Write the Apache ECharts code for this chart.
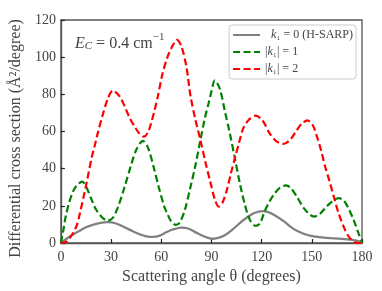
<!DOCTYPE html>
<html><head><meta charset="utf-8">
<script src="https://cdn.jsdelivr.net/npm/echarts@6/dist/echarts.min.js"></script>
<style>html,body{margin:0;padding:0;background:#fff}#c{width:382px;height:291px}</style>
</head><body><div id="c"></div>
<script>
var xTicks = [0, 30, 60, 90, 120, 150, 180];
var yTicks = [0, 20, 40, 60, 80, 100, 120];
var seriesNames = ['k1 = 0 (H-SARP)', '|k1| = 1', '|k1| = 2'];
var grayData = [[0,0],[3,2],[6,3.8],[9,5.5],[12,7],[15,8.5],[19,9.8],[23,10.7],[28,11.2],[33,10.5],[38,8.5],[43,6.3],[48,4.4],[52,3.4],[55,3.3],[59,4],[63,5.8],[67,7.3],[72,8.3],[76,7.8],[80,6],[84,4.2],[88,2.8],[91,2.3],[95,3],[98.2,4.3],[102,6.8],[108,11.5],[112,14.3],[116,16.3],[120,17.2],[124,16.6],[128,14.8],[133.6,11.5],[138,8.3],[142,6.2],[147.4,4.3],[152,3.4],[157,2.9],[161,2.6],[166,2.3],[171,2],[175,1.6],[178,1],[180,0.3]];
var greenData = [[0,0],[1.5,7],[2.8,14],[5,22],[7.7,28.5],[10,31.5],[12.8,33],[15,30.5],[18.5,23],[21,18],[24.4,14],[27.9,12],[31,13.5],[34,19],[38,30],[42,42],[45,50],[49,55],[52,51.5],[55.9,39.3],[58.5,30],[61.8,19.6],[64,15],[66,11.5],[68.7,9.7],[71,11],[74,17.5],[77.5,30.3],[80,40],[83.4,55.4],[86,67],[88.3,75.2],[90,81.5],[92,87.5],[95,83],[98,71],[101,59],[104,45.6],[107,32],[110,20.5],[113,12.4],[116.5,9.2],[119,10.5],[121.8,17],[124.5,22],[127.7,26.5],[131,29.8],[134.6,31],[137.5,29.5],[141,25],[145,19],[148.5,15.5],[151.3,14.2],[155,15.8],[159,19.8],[163,23],[166,24.2],[169,23],[172,18.5],[175,12.4],[178,5],[180,0.5]];
var redData = [[0,0],[3,0.5],[4.7,2],[7,5],[9.6,9.7],[11.5,16.5],[13.6,25],[15.5,33],[18.5,46.4],[20,51.5],[22,59],[25,69],[28,77.5],[31,82],[35,79],[38.2,73.4],[41,67.5],[44.1,62.6],[47,58.8],[49.6,57.2],[52,59.5],[53.9,64.4],[56,71.5],[57.9,78.7],[60.8,91.3],[63.8,100.3],[67,106.5],[69.3,109.3],[72,106],[75,95],[77.5,79],[80.5,66],[83.4,55.4],[86.5,43],[89.3,33],[92,23.5],[94.3,19.6],[96.5,21.5],[99.2,28.5],[101.5,37],[104,45.6],[106.5,54],[109,61.7],[112.5,66.5],[116.5,68.5],[120.5,66],[124.8,59],[128.5,55],[133,53.3],[137,55.5],[140.5,60],[144,64.3],[147.4,66],[150.5,63.5],[153,57.5],[155.5,50],[158,41],[160.5,33.5],[163.1,25],[166,16],[169,8.8],[172,3.5],[174.9,0.7],[177,0],[180,0]];

var txt = '#444';
var font = 'Liberation Serif';
var chart = echarts.init(document.getElementById('c'), null, {renderer: 'canvas'});
var dash = [7, 3.5];
chart.setOption({
  animation: false,
  backgroundColor: '#fff',
  grid: {left: 57, right: 20, top: 20, bottom: 48, show: true, borderColor: '#555', borderWidth: 1.3, backgroundColor: 'transparent'},
  title: {
    text: '{i|E}{s|C}{n| = 0.4 cm}{p|−1}',
    left: 70, top: 27,
    textStyle: {
      fontWeight: 'normal',
      rich: {
        i: {fontFamily: font, fontStyle: 'italic', fontWeight: 'normal', fontSize: 16, color: txt, verticalAlign: 'bottom', lineHeight: 20},
        s: {fontFamily: font, fontStyle: 'italic', fontWeight: 'normal', fontSize: 11, color: txt, verticalAlign: 'bottom', lineHeight: 15, padding: [6, 0, 0, 0]},
        n: {fontFamily: font, fontWeight: 'normal', fontSize: 16, color: txt, verticalAlign: 'bottom', lineHeight: 20},
        p: {fontFamily: font, fontWeight: 'normal', fontSize: 11, color: txt, verticalAlign: 'top', lineHeight: 20, padding: [0, 0, 8, 0]}
      }
    }
  },
  legend: {
    data: seriesNames,
    orient: 'vertical',
    right: 26, top: 25,
    backgroundColor: '#fff',
    borderColor: '#ccc', borderWidth: 1, borderRadius: 3,
    padding: [4, 3, 4, 3],
    itemGap: 5,
    itemWidth: 27, itemHeight: 13.5,
    itemStyle: {opacity: 0},
    textStyle: {fontFamily: font, fontSize: 12, color: txt,
      rich: {
        i: {fontFamily: font, fontStyle: 'italic', fontSize: 12, color: txt},
        n: {fontFamily: font, fontSize: 12, color: txt}
      }},
    formatter: function (name) {
      if (name === seriesNames[0]) return '  {i|k}{n|₁ = 0 (H-SARP)}';
      if (name === seriesNames[1]) return '{n||}{i|k}{n|₁| = 1}';
      return '{n||}{i|k}{n|₁| = 2}';
    }
  },
  xAxis: {
    type: 'value', min: 0, max: 180, interval: 30,
    name: 'Scattering angle θ (degrees)',
    nameLocation: 'middle', nameGap: 20,
    nameTextStyle: {fontFamily: font, fontSize: 16, color: txt},
    axisLine: {show: true, lineStyle: {color: '#555', width: 1.3}},
    axisTick: {show: true, inside: true, length: 4, lineStyle: {color: '#222', width: 1.2}},
    axisLabel: {fontFamily: font, fontSize: 14, color: txt, margin: 7,
      formatter: function (v) { return xTicks.indexOf(v) >= 0 ? String(v) : ''; }},
    splitLine: {show: false}
  },
  yAxis: {
    type: 'value', min: 0, max: 120, interval: 20,
    name: 'Differential cross section (Å²/degree)',
    nameLocation: 'middle', nameGap: 31,
    nameTextStyle: {fontFamily: font, fontSize: 16, color: txt, padding: [0, 14, 0, 0]},
    axisLine: {show: true, lineStyle: {color: '#555', width: 1.3}},
    axisTick: {show: true, inside: true, length: 4, lineStyle: {color: '#222', width: 1.2}},
    axisLabel: {fontFamily: font, fontSize: 14, color: txt, margin: 5,
      formatter: function (v) { return yTicks.indexOf(v) >= 0 ? String(v) : ''; }},
    splitLine: {show: false}
  },
  series: [
    {name: seriesNames[0], type: 'line', data: grayData, smooth: 0.35, symbol: 'none', z: 3,
      lineStyle: {color: '#808080', width: 2.3}, itemStyle: {color: '#808080'}},
    {name: seriesNames[1], type: 'line', data: greenData, smooth: 0.3, symbol: 'none', z: 4,
      lineStyle: {color: '#008000', width: 2.2, type: dash}, itemStyle: {color: '#008000'}},
    {name: seriesNames[2], type: 'line', data: redData, smooth: 0.3, symbol: 'none', z: 5,
      lineStyle: {color: '#ff0000', width: 2.2, type: dash}, itemStyle: {color: '#ff0000'}}
  ]
});
</script></body></html>
